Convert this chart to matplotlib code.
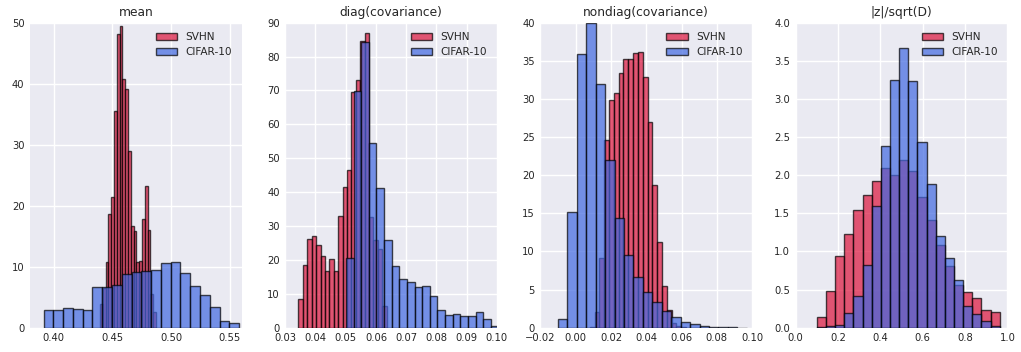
import numpy as np
import matplotlib
matplotlib.use("Agg")
import matplotlib.pyplot as plt

# ---- data (density-normalised histograms, 20 bins) ----
titles = ["mean", "diag(covariance)", "nondiag(covariance)", "|z|/sqrt(D)"]

# panel 1: mean
mean_svhn_range = (0.4396, 0.4872)
mean_svhn = [3.9, 6.5, 10.8, 18.6, 21.4, 35.5, 48.1, 49.4, 40.7, 39.1,
             29.0, 16.7, 15.8, 10.8, 10.9, 17.8, 23.2, 16.0, 5.5, 2.6]
mean_cifar_range = (0.3915, 0.5579)
mean_cifar = [2.84, 2.95, 3.17, 3.0, 2.84, 6.6, 6.6, 6.94, 8.74, 9.07,
              9.23, 9.4, 10.65, 10.8, 8.9, 6.83, 5.4, 3.39, 1.09, 0.82]

# panel 2: diag(covariance)
diag_svhn_range = (0.03438, 0.06357)
diag_svhn = [8.55, 18.5, 26.25, 27.0, 24.5, 21.2, 16.6, 20.35, 16.8, 33.1,
             41.4, 46.5, 69.7, 73.0, 84.5, 87.0, 32.7, 25.9, 23.2, 6.5]
diag_cifar_range = (0.0501, 0.1005)
diag_cifar = [20.65, 69.9, 84.2, 54.4, 41.1, 26.0, 18.2, 14.45, 13.5, 12.0,
              12.45, 9.5, 5.2, 3.8, 3.95, 3.45, 3.4, 4.5, 2.65, 0.6]

# panel 3: nondiag(covariance)
nondiag_svhn_range = (0.0080, 0.0625)
nondiag_svhn = [0.13, 2.1, 9.1, 24.6, 29.9, 30.8, 33.4, 35.3, 35.2, 36.0,
                36.1, 32.9, 27.0, 18.7, 11.2, 5.5, 2.3, 0.6, 0.2, 0.05]
nondiag_cifar_range = (-0.0101, 0.0970)
nondiag_cifar = [1.14, 15.2, 35.9, 40.0, 31.9, 22.0, 14.4, 9.5, 6.6, 4.7,
                 3.4, 2.2, 1.35, 0.75, 0.45, 0.22, 0.1, 0.05, 0.03, 0.02]

# panel 4: |z|/sqrt(D)
z_svhn_range = (0.0996, 0.9644)
z_svhn = [0.136, 0.48, 0.935, 1.224, 1.55, 1.74, 1.92, 2.09, 2.0, 2.2,
          2.05, 1.71, 1.41, 1.08, 0.81, 0.56, 0.47, 0.385, 0.23, 0.2]
z_cifar_range = (0.0996, 0.9644)
z_cifar = [0.005, 0.02, 0.035, 0.19, 0.41, 0.82, 1.59, 2.38, 3.25, 3.67,
           3.24, 2.43, 1.89, 1.2, 0.91, 0.62, 0.29, 0.175, 0.09, 0.026]

panels = [
    (mean_svhn_range, mean_svhn, mean_cifar_range, mean_cifar),
    (diag_svhn_range, diag_svhn, diag_cifar_range, diag_cifar),
    (nondiag_svhn_range, nondiag_svhn, nondiag_cifar_range, nondiag_cifar),
    (z_svhn_range, z_svhn, z_cifar_range, z_cifar),
]

xlims = [(0.38, 0.56), (0.03, 0.10), (-0.02, 0.10), (0.0, 1.0)]
ylims = [(0, 50), (0, 90), (0, 40), (0, 4.0)]
xticks = [np.arange(0.40, 0.551, 0.05), np.arange(0.03, 0.1001, 0.01),
          np.arange(-0.02, 0.1001, 0.02), np.arange(0.0, 1.001, 0.2)]
yticks = [np.arange(0, 51, 10), np.arange(0, 91, 10),
          np.arange(0, 41, 5), np.arange(0, 4.01, 0.5)]
xfmt = ["%.2f", "%.2f", "%.2f", "%.1f"]
yfmt = ["%d", "%d", "%d", "%.1f"]


def fmt(f, v):
    s = f % v
    if s.startswith("-"):
        s = "\u2212" + s[1:]
    if s in ("\u22120.00", "\u22120.0"):
        s = s[1:]
    return s


plt.rcParams.update({
    "font.family": ["DejaVu Sans"],
    "axes.facecolor": "#EAEAF2",
    "axes.edgecolor": "white",
    "grid.color": "white",
    "grid.linewidth": 1.0,
    "text.color": "#262626",
    "xtick.color": "#262626",
    "ytick.color": "#262626",
})

fig, axes = plt.subplots(1, 4, figsize=(10.21, 3.52), dpi=100)
fig.subplots_adjust(left=0.0294, right=0.9866, bottom=0.069, top=0.9355,
                    wspace=0.206)

for i, ax in enumerate(axes):
    s_rng, s_h, c_rng, c_h = panels[i]
    s_edges = np.linspace(s_rng[0], s_rng[1], len(s_h) + 1)
    c_edges = np.linspace(c_rng[0], c_rng[1], len(c_h) + 1)
    ax.hist(s_edges[:-1], bins=s_edges, weights=s_h, color="crimson",
            alpha=0.7, edgecolor="black", linewidth=1.0, label="SVHN")
    ax.hist(c_edges[:-1], bins=c_edges, weights=c_h, color="royalblue",
            alpha=0.7, edgecolor="black", linewidth=1.0, label="CIFAR-10")

    ax.set_xlim(*xlims[i])
    ax.set_ylim(*ylims[i])
    ax.set_xticks(xticks[i])
    ax.set_yticks(yticks[i])
    ax.set_xticklabels([fmt(xfmt[i], v) for v in xticks[i]])
    ax.set_yticklabels([fmt(yfmt[i], v) for v in yticks[i]])
    ax.tick_params(length=0, labelsize=7.2, pad=4)
    ax.grid(True)
    ax.set_axisbelow(True)
    for sp in ax.spines.values():
        sp.set_visible(False)
    ax.set_title(titles[i], fontsize=8.8, pad=5)
    ax.legend(loc="upper right", frameon=False, fontsize=7.6)

fig.savefig("out.png", dpi=100)
